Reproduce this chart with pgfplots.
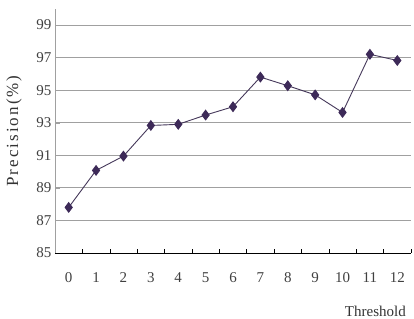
\documentclass[border=0pt]{standalone}
\usepackage{fontspec}
\setmainfont{Liberation Serif}
\usepackage{pgfplots}
\pgfplotsset{compat=1.18}
\definecolor{mk}{HTML}{3D2A58}
\definecolor{ln}{HTML}{45385A}
\definecolor{gr}{HTML}{A0A0A0}
\begin{document}
\begin{tikzpicture}
\useasboundingbox (0pt,0pt) rectangle (414pt,318pt);
\begin{axis}[
  at={(55pt,65pt)}, anchor=south west,
  scale only axis, width=356pt, height=244.3pt,
  xmin=-0.5, xmax=12.5, ymin=85, ymax=100,
  xtick={0,...,12},
  minor xtick={-0.5,0.5,...,12.5},
  ytick={85,87,...,99},
  major x tick style={draw=none},
  minor x tick style={black, thin},
  minor tick length=4pt,
  xtick pos=bottom, ytick pos=left,
  x tick label style={yshift=-16pt},
  y tick style={gr, thin}, major tick length=5pt,
  ymajorgrids, grid style={gr, line width=0.8pt},
  axis x line*=bottom, axis y line*=left,
  x axis line style={black, thin, -},
  y axis line style={gr, line width=0.8pt, -},
  tick label style={font=\fontsize{15}{16}\selectfont, text=black!75},
  /pgf/number format/assume math mode=true,
  clip=false,
]
\addplot[ln, line width=0.9pt, mark=diamond*, mark size=4.8pt, mark options={mk, fill=mk}]
coordinates {(0,87.8) (1,90.07) (2,90.95) (3,92.83) (4,92.9) (5,93.47) (6,93.98) (7,95.8) (8,95.27) (9,94.71) (10,93.63) (11,97.2) (12,96.82)};
\end{axis}
\node[rotate=90, anchor=center, font=\fontsize{17}{18}\selectfont\addfontfeature{LetterSpace=12}, text=black!80] at (14pt,187pt) {Precision(\%)};
\node[anchor=base east, font=\fontsize{15}{16}\selectfont, text=black!80, inner sep=0pt] at (406pt,2pt) {Threshold};
\end{tikzpicture}
\end{document}
